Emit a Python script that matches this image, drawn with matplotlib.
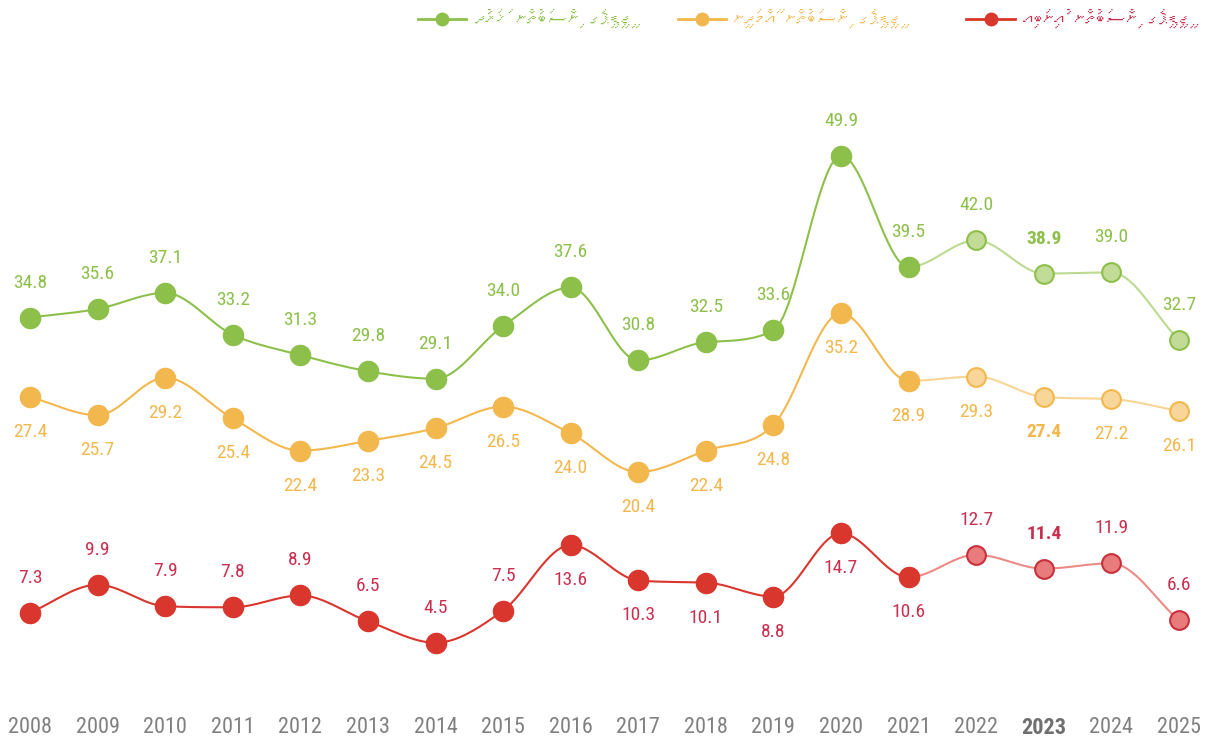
import unicodedata
import numpy as np
import matplotlib
matplotlib.use("Agg")
import matplotlib.pyplot as plt
from matplotlib import font_manager
from matplotlib.lines import Line2D

years = list(range(2008, 2026))
expenditure = [34.8, 35.6, 37.1, 33.2, 31.3, 29.8, 29.1, 34.0, 37.6, 30.8, 32.5, 33.6,
               49.9, 39.5, 42.0, 38.9, 39.0, 32.7]
revenue = [27.4, 25.7, 29.2, 25.4, 22.4, 23.3, 24.5, 26.5, 24.0, 20.4, 22.4, 24.8,
           35.2, 28.9, 29.3, 27.4, 27.2, 26.1]
deficit = [7.3, 9.9, 7.9, 7.8, 8.9, 6.5, 4.5, 7.5, 13.6, 10.3, 10.1, 8.8,
           14.7, 10.6, 12.7, 11.4, 11.9, 6.6]
# label below point for these years (deficit); revenue labels all below
deficit_below = [2016, 2017, 2018, 2019, 2020, 2021]
first_projection = 2022
highlight_year = 2023

legend_labels = ["ޖީޑީޕީގެ ނިސްބަތުން ޚަރަދު",
                 "ޖީޑީޕީގެ ނިސްބަތުން އާމްދަނީ",
                 "ޖީޑީޕީގެ ނިސްބަތުން އުނިބައި"]


def pick_font(names):
    have = {f.name for f in font_manager.fontManager.ttflist}
    for n in names:
        if n in have:
            return n
    return 'DejaVu Sans'


def thaana_font():
    try:
        from fontTools.ttLib import TTFont
    except ImportError:
        return 'DejaVu Sans'
    for f in font_manager.fontManager.ttflist:
        try:
            cmap = TTFont(f.fname, fontNumber=0, lazy=True).getBestCmap()
            if cmap and 0x0786 in cmap and 0x07A6 in cmap:
                return f.name
        except Exception:
            continue
    return 'DejaVu Sans'


def rtl(s):
    # reverse grapheme clusters so right-to-left text reads correctly
    clusters = []
    for ch in s:
        if clusters and unicodedata.combining(ch) or (clusters and 0x07A6 <= ord(ch) <= 0x07B0):
            clusters[-1] += ch
        else:
            clusters.append(ch)
    return ''.join(reversed(clusters))


def monotone(x, y, n=20):
    x = np.asarray(x, float)
    y = np.asarray(y, float)
    h = np.diff(x)
    d = np.diff(y) / h
    m = np.zeros_like(y)
    m[0], m[-1] = d[0], d[-1]
    for i in range(1, len(y) - 1):
        if d[i - 1] * d[i] <= 0:
            m[i] = 0
        else:
            m[i] = (d[i - 1] + d[i]) / 2
    for i in range(len(d)):
        if d[i] == 0:
            m[i] = m[i + 1] = 0
            continue
        a, b = m[i] / d[i], m[i + 1] / d[i]
        s = a * a + b * b
        if s > 9:
            t = 3 / np.sqrt(s)
            m[i], m[i + 1] = t * a * d[i], t * b * d[i]
    xs, ys = [], []
    for i in range(len(d)):
        t = np.linspace(0, 1, n, endpoint=(i == len(d) - 1))
        h00 = 2 * t**3 - 3 * t**2 + 1
        h10 = t**3 - 2 * t**2 + t
        h01 = -2 * t**3 + 3 * t**2
        h11 = t**3 - t**2
        xs.append(x[i] + t * h[i])
        ys.append(h00 * y[i] + h10 * h[i] * m[i] + h01 * y[i + 1] + h11 * h[i] * m[i + 1])
    return np.concatenate(xs), np.concatenate(ys)


num_font = pick_font(['Roboto Condensed', 'Liberation Sans Narrow', 'Roboto'])
dv_font = thaana_font()
plt.rcParams['font.family'] = [num_font, 'DejaVu Sans']

fig = plt.figure(figsize=(12.08, 7.4), dpi=100)
ax = fig.add_axes([0, 40 / 740, 1, 640 / 740])
ax.set_xlim(2007.556, 2025.43)
ax.set_ylim(-0.84, 58.8)
for s in ax.spines.values():
    s.set_visible(False)
ax.set_yticks([])
ax.set_xticks(years)
ax.set_xticklabels([str(y) for y in years], fontsize=16, color='#808080')
ax.tick_params(axis='x', length=0, pad=12)
for lab in ax.get_xticklabels():
    if lab.get_text() == str(highlight_year):
        lab.set_fontweight('bold')
        lab.set_color('#707070')

series = [
    (expenditure, '#8DC04A', '#BCDA90', '#C2DC98', '#8DC04A', 'above'),
    (revenue, '#F2B84E', '#F8D593', '#F8D598', '#F2B84E', 'below'),
    (deficit, '#D9362E', '#EC8A86', '#E87C7C', '#C9303C', 'mixed'),
]
label_cols = ['#8DC04A', '#F2B84E', '#C9304F']

k = years.index(first_projection)
for (vals, col, light_line, light_fill, edge, pos), tcol in zip(series, label_cols):
    xs, ys = monotone(years, vals)
    split = years[k - 1]
    ax.plot(xs[xs <= split + 1e-9], ys[xs <= split + 1e-9], color=col, lw=1.5, zorder=2)
    ax.plot(xs[xs >= split - 1e-9], ys[xs >= split - 1e-9], color=light_line, lw=1.5, zorder=2)
    ax.plot(years[:k], vals[:k], 'o', ms=14.5, color=col, mec=col, zorder=3)
    ax.plot(years[k:], vals[k:], 'o', ms=13.5, mfc=light_fill, mec=edge, mew=1.5, zorder=3)
    for yr, v in zip(years, vals):
        if pos == 'above':
            below = False
        elif pos == 'below':
            below = True
        else:
            below = yr in deficit_below
        ax.annotate(f'{v:.1f}', (yr, v), xytext=(0, -35 if below else 35),
                    textcoords='offset pixels', ha='center', va='center',
                    fontsize=14, color=tcol,
                    fontweight='bold' if yr == highlight_year else 'normal',
                    zorder=4)

# legend along the top, drawn by hand
legend_items = [
    (0.346, label_cols[0], '#8DC04A'),
    (0.561, label_cols[1], '#F2B84E'),
    (0.800, '#C9304F', '#D9362E'),
]
ly = 1 - 19 / 740
for (x0, tcol, lcol), lab in zip(legend_items, legend_labels):
    fig.add_artist(Line2D([x0, x0 + 0.040], [ly, ly], color=lcol, lw=2,
                          transform=fig.transFigure))
    fig.add_artist(Line2D([x0 + 0.020], [ly], marker='o', ms=9, color=lcol,
                          transform=fig.transFigure))
    fig.text(x0 + 0.047, ly, rtl(lab), fontsize=15, color=tcol, va='center', ha='left',
             family=[dv_font, 'DejaVu Sans'])

fig.savefig('out.png', dpi=100, facecolor='white')
